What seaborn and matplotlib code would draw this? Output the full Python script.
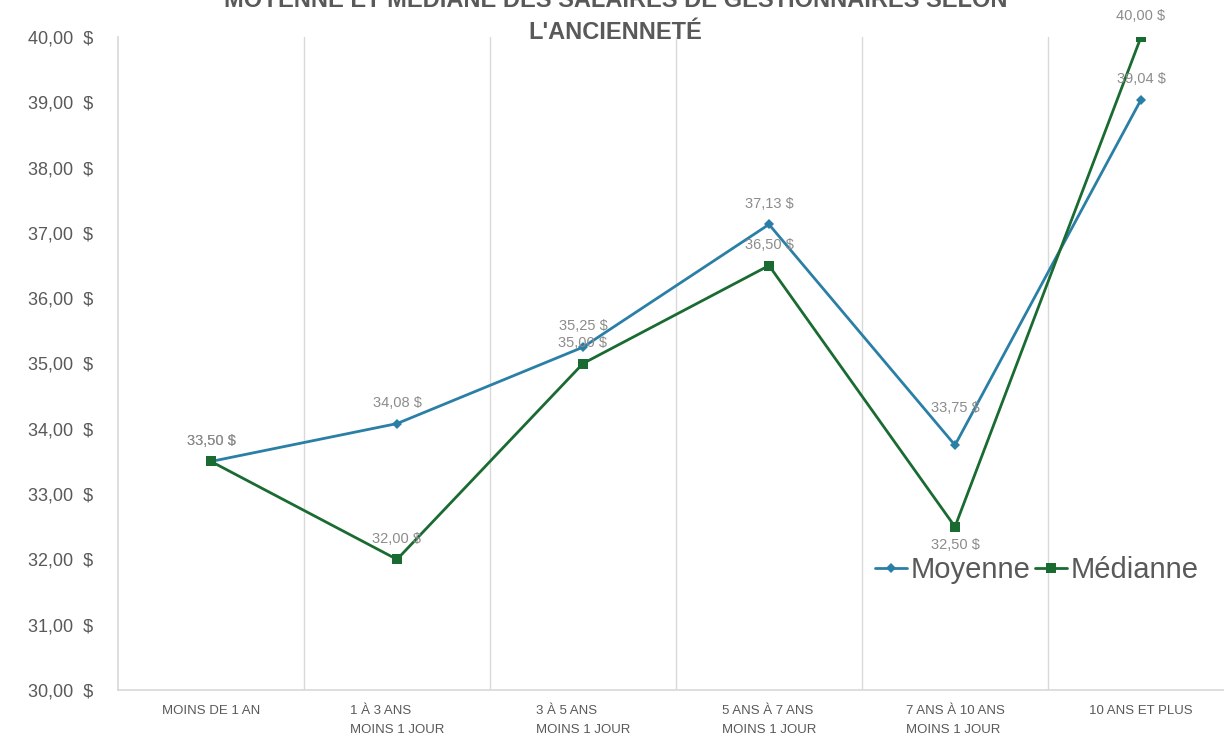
import matplotlib
matplotlib.use("Agg")
import matplotlib.pyplot as plt
import matplotlib.ticker as mticker
import numpy as np
import pandas as pd
import seaborn as sns

### Data ###

categories = [
    "MOINS DE 1 AN",
    "1 À 3 ANS\nMOINS 1 JOUR",
    "3 À 5 ANS\nMOINS 1 JOUR",
    "5 ANS À 7 ANS\nMOINS 1 JOUR",
    "7 ANS À 10 ANS\nMOINS 1 JOUR",
    "10 ANS ET PLUS",
]
moyenne = [33.50, 34.08, 35.25, 37.13, 33.75, 39.04]
medianne = [33.50, 32.00, 35.00, 36.50, 32.50, 40.00]
y_ticks = [30, 31, 32, 33, 34, 35, 36, 37, 38, 39, 40]

title = "MOYENNE ET MÉDIANE DES SALAIRES DE GESTIONNAIRES SELON\nL'ANCIENNETÉ"

### Style ###

sns.set_theme(style="white")
plt.rcParams["font.family"] = ["Liberation Sans", "DejaVu Sans"]

blue = "#2A7FA6"
green = "#1A6B32"
text_grey = "#595959"
label_grey = "#8C8C8C"
grid_grey = "#D9D9D9"

df = pd.DataFrame({
    "pos": list(range(len(categories))) * 2,
    "valeur": moyenne + medianne,
    "serie": ["Moyenne"] * len(moyenne) + ["Médianne"] * len(medianne),
})

fig = plt.figure(figsize=(12.24, 7.38), dpi=100)
ax = fig.add_axes([118 / 1224, 1 - 690 / 738, 1116 / 1224, 653 / 738])

sns.lineplot(
    data=df[df["serie"] == "Moyenne"], x="pos", y="valeur",
    color=blue, linewidth=2, marker="D", markersize=5,
    markeredgewidth=0, label="Moyenne", ax=ax,
)
sns.lineplot(
    data=df[df["serie"] == "Médianne"], x="pos", y="valeur",
    color=green, linewidth=2, marker="s", markersize=7,
    markeredgewidth=0, label="Médianne", ax=ax,
)


def fmt(v):
    return f"{v:.2f}".replace(".", ",") + " $"


ax.set_xlim(-0.5, len(categories) - 0.5)
ax.set_ylim(30, 40)
ax.set_yticks(y_ticks)
ax.yaxis.set_major_formatter(mticker.FuncFormatter(lambda v, _: f"{v:.2f}".replace(".", ",") + "  $"))
ax.tick_params(axis="y", length=0, pad=18, labelsize=13, labelcolor=text_grey)

ax.set_xticks(range(len(categories)))
ax.set_xticklabels(categories, fontsize=9.5, color=text_grey,
                   linespacing=1.8, multialignment="left")
ax.tick_params(axis="x", length=0, pad=11)

# vertical gridlines between categories
ax.set_xticks(np.arange(0.5, len(categories) - 0.5, 1), minor=True)
ax.tick_params(axis="x", which="minor", length=0)
ax.grid(which="minor", axis="x", color=grid_grey, linewidth=1)
ax.grid(which="major", visible=False)

for side in ["top", "right"]:
    ax.spines[side].set_visible(False)
ax.spines["left"].set_color(grid_grey)
ax.spines["bottom"].set_color(grid_grey)
ax.set_xlabel("")
ax.set_ylabel("")

# data labels
for i, v in enumerate(moyenne):
    dy = 27 if i == 4 else 15
    ax.annotate(fmt(v), (i, v), xytext=(0, dy), textcoords="offset points",
                ha="center", va="center", fontsize=10.5, color=label_grey)
for i, v in enumerate(medianne):
    dy = -13 if i == 4 else 15
    ax.annotate(fmt(v), (i, v), xytext=(0, dy), textcoords="offset points",
                ha="center", va="center", fontsize=10.5, color=label_grey)

fig.text(0.503, 0.977, title, ha="center", va="center", fontsize=17,
         fontweight="bold", color=text_grey, linespacing=1.5)

leg = ax.legend(loc="center right", bbox_to_anchor=(1213 / 1224, 1 - 570 / 738),
                bbox_transform=fig.transFigure, ncol=2, frameon=False,
                fontsize=21, handlelength=1.1, handletextpad=0.12,
                columnspacing=0.15, borderpad=0)
for t in leg.get_texts():
    t.set_color(text_grey)

fig.savefig("out.png", dpi=100)
